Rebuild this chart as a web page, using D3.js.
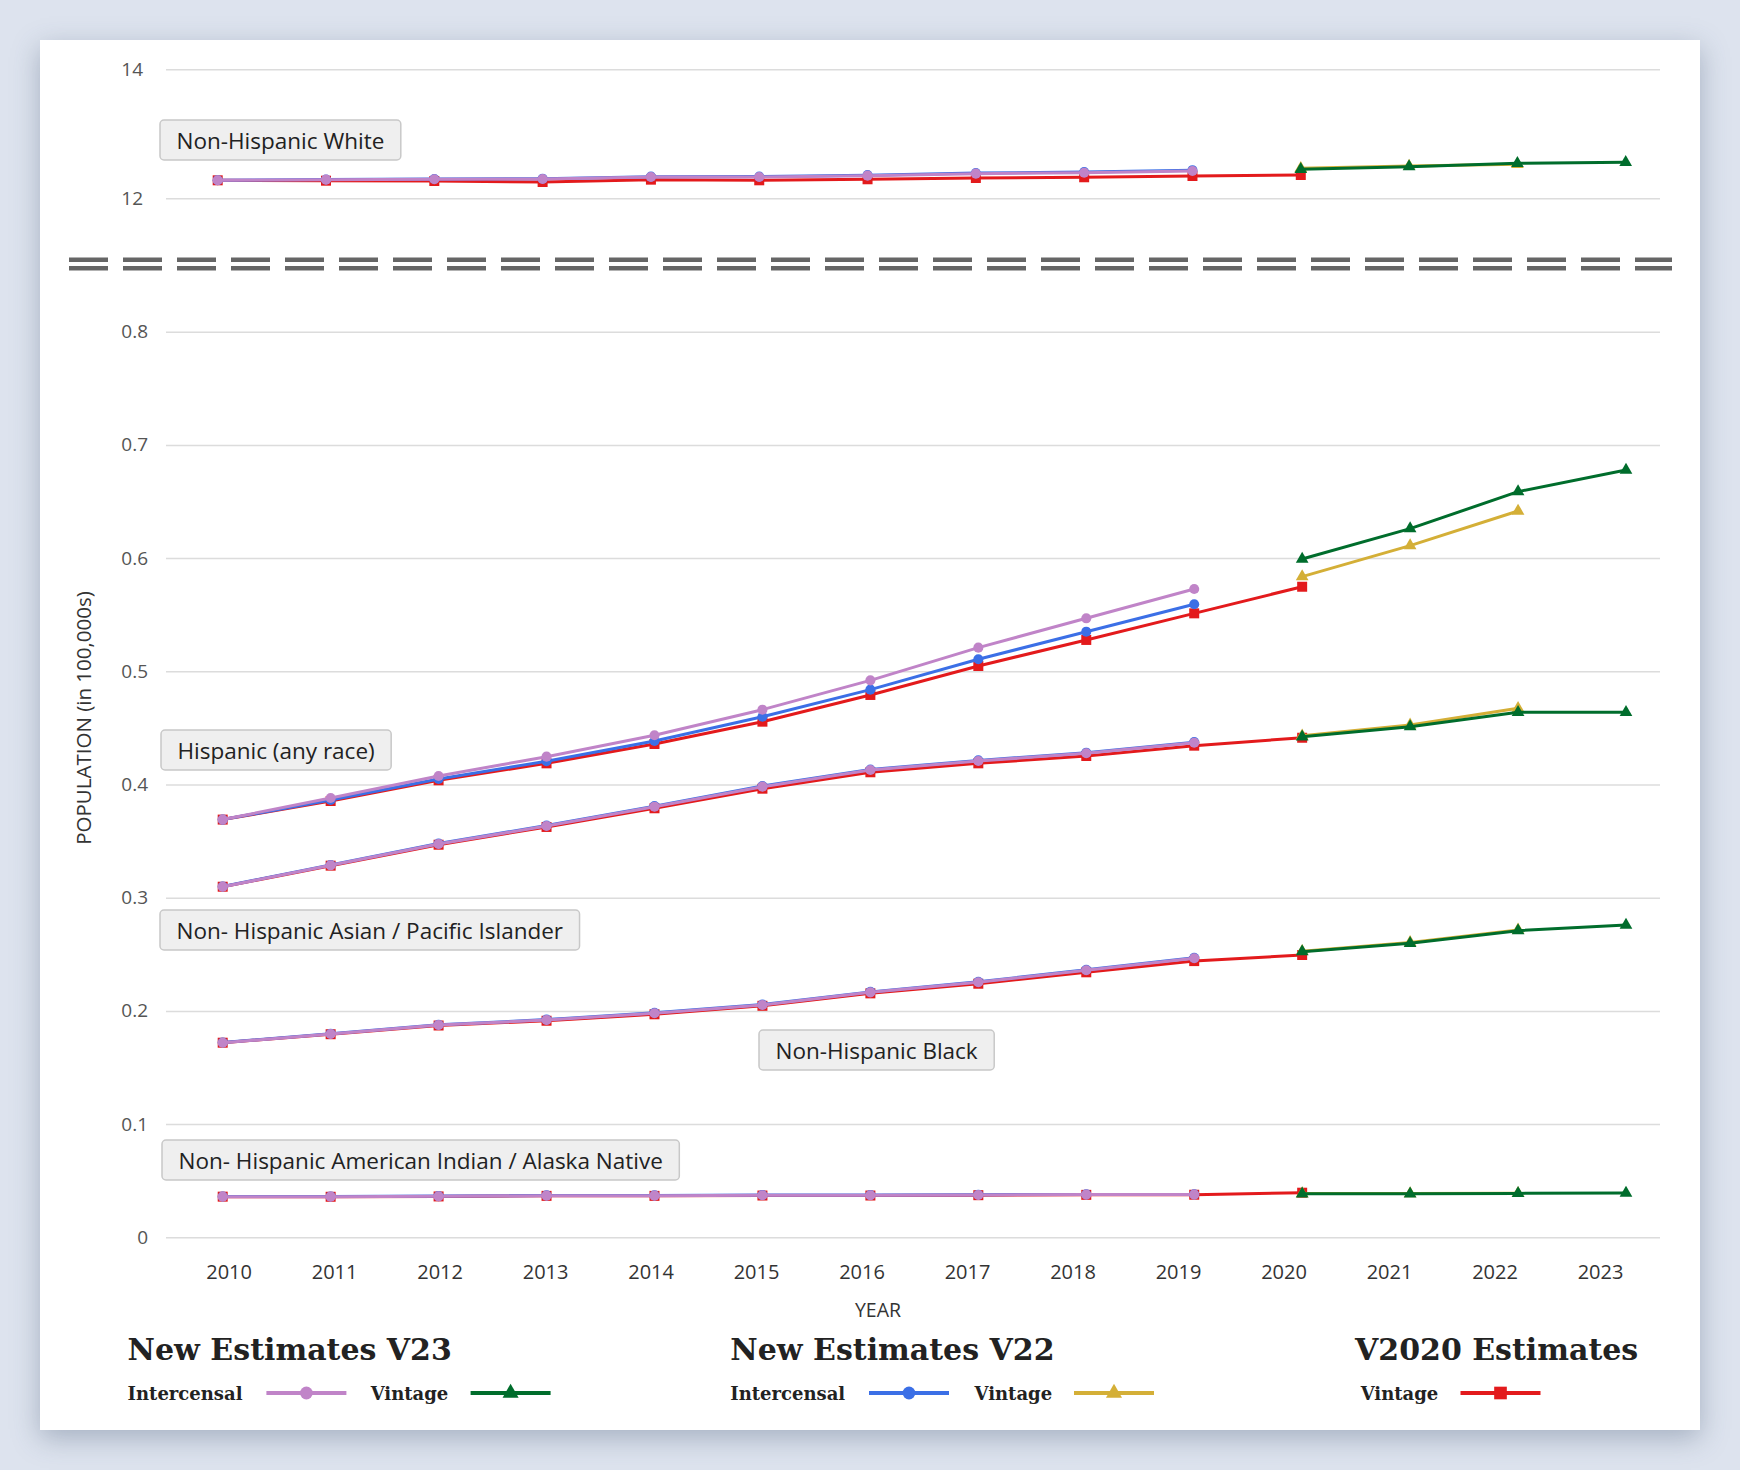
<!DOCTYPE html>
<html>
<head>
<meta charset="utf-8">
<script src="https://cdn.jsdelivr.net/npm/d3@7"></script>
<style>
  body { margin: 0; width: 1740px; height: 1470px; overflow: hidden; background: #dde3ee; font-family: "Open Sans", sans-serif; }
  .card { position: absolute; left: 40px; top: 40px; width: 1660px; height: 1390px; background: #fff;
          box-shadow: 0 8px 26px rgba(60, 80, 110, 0.35); }
  svg { position: absolute; left: 0; top: 0; }
</style>
</head>
<body>
<div class="card"></div>
<div id="chart"></div>
<script>
// years
const yearLabels = ["2010","2011","2012","2013","2014","2015","2016","2017","2018","2019","2020","2021","2022","2023"]
const intercensalYears = [2010, 2011, 2012, 2013, 2014, 2015, 2016, 2017, 2018, 2019]
const v2020Years = [2010, 2011, 2012, 2013, 2014, 2015, 2016, 2017, 2018, 2019, 2020]
const v22VintageYears = [2020, 2021, 2022]
const v23VintageYears = [2020, 2021, 2022, 2023]

// Non-Hispanic White (top panel)
const whiteV23Int = [12.279, 12.289, 12.295, 12.299, 12.330, 12.330, 12.351, 12.382, 12.397, 12.423]
const whiteV22Int = [12.281, 12.292, 12.299, 12.304, 12.336, 12.337, 12.359, 12.391, 12.408, 12.436]
const whiteV2020 = [12.279, 12.273, 12.268, 12.253, 12.289, 12.279, 12.295, 12.315, 12.326, 12.346, 12.361]
const whiteV22Vin = [12.465, 12.500, 12.527]
const whiteV23Vin = [12.450, 12.490, 12.543, 12.558]

// Hispanic (any race)
const hispV23Int = [0.369, 0.3881, 0.4075, 0.4246, 0.4435, 0.4661, 0.4920, 0.5209, 0.5468, 0.5727]
const hispV22Int = [0.369, 0.3863, 0.4049, 0.4205, 0.4384, 0.4599, 0.4838, 0.5106, 0.5350, 0.5592]
const hispV2020 = [0.369, 0.3854, 0.4037, 0.4187, 0.4358, 0.4555, 0.4791, 0.5047, 0.5277, 0.5512, 0.5747]
const hispV22Vin = [0.5836, 0.6110, 0.6416]
const hispV23Vin = [0.5992, 0.6260, 0.6587, 0.6778]

// Non-Hispanic Asian / Pacific Islander
const asianV23Int = [0.3097, 0.3286, 0.3474, 0.3633, 0.3804, 0.3981, 0.4128, 0.4208, 0.4276, 0.4369]
const asianV22Int = [0.3099, 0.3289, 0.3478, 0.3638, 0.3809, 0.3986, 0.4133, 0.4213, 0.4281, 0.4374]
const asianV2020 = [0.3097, 0.3283, 0.3468, 0.3625, 0.3790, 0.3963, 0.4108, 0.4187, 0.4252, 0.4343, 0.4413]
const asianV22Vin = [0.4430, 0.4526, 0.4673]
const asianV23Vin = [0.4422, 0.4511, 0.4638, 0.4638]

// Non-Hispanic Black
const blackV23Int = [0.1719, 0.1796, 0.1875, 0.1920, 0.1979, 0.2052, 0.2164, 0.2253, 0.2359, 0.2465]
const blackV22Int = [0.1721, 0.1798, 0.1877, 0.1923, 0.1983, 0.2056, 0.2168, 0.2257, 0.2363, 0.2469]
const blackV2020 = [0.1719, 0.1794, 0.1871, 0.1913, 0.1970, 0.2045, 0.2155, 0.2240, 0.2341, 0.2440, 0.2494]
const blackV22Vin = [0.2527, 0.2605, 0.2715]
const blackV23Vin = [0.2523, 0.2597, 0.2709, 0.2759]

// Non-Hispanic American Indian / Alaska Native
const aianV23Int = [0.0359, 0.0359, 0.0362, 0.0368, 0.0368, 0.0371, 0.0371, 0.0374, 0.0377, 0.0377]
const aianV22Int = [0.0360, 0.0361, 0.0364, 0.0370, 0.0370, 0.0373, 0.0373, 0.0376, 0.0379, 0.0379]
const aianV2020 = [0.0359, 0.0358, 0.0361, 0.0366, 0.0366, 0.0369, 0.0369, 0.0372, 0.0375, 0.0376, 0.0394]
const aianV22Vin = [0.0386, 0.0386, 0.0389]
const aianV23Vin = [0.0385, 0.0385, 0.0388, 0.0391]

const topTicks = [12, 14]
const bottomTicks = [0, 0.1, 0.2, 0.3, 0.4, 0.5, 0.6, 0.7, 0.8]
const bottomTickLabels = ["0", "0.1", "0.2", "0.3", "0.4", "0.5", "0.6", "0.7", "0.8"]

const labels = [
  { text: "Non-Hispanic White", x: 160, y: 120 },
  { text: "Hispanic (any race)", x: 161, y: 730 },
  { text: "Non- Hispanic Asian / Pacific Islander", x: 160, y: 910 },
  { text: "Non-Hispanic Black", x: 759, y: 1030 },
  { text: "Non- Hispanic American Indian / Alaska Native", x: 162, y: 1140 }
]

// styles of the five series
const estilos = {
  v2020: { color: "#e31a1c", symbol: d3.symbolSquare, size: 100 },
  v22i: { color: "#3b6fe6", symbol: d3.symbolCircle, size: 80 },
  v23i: { color: "#c084c8", symbol: d3.symbolCircle, size: 80 },
  v22v: { color: "#d4af37", symbol: d3.symbolTriangle, size: 70 },
  v23v: { color: "#006d2c", symbol: d3.symbolTriangle, size: 70 }
}

const svg = d3.select("#chart").append("svg")
  .attr("width", 1740)
  .attr("height", 1470)

const gridLeft = 166
const gridRight = 1660

const xTop = d3.scaleLinear().domain([2010, 2023]).range([217.7, 1625.7])
const xBottom = d3.scaleLinear().domain([2010, 2023]).range([222.7, 1626])
const xLabel = d3.scalePoint().domain(yearLabels).range([228.6, 1600])
const yTop = d3.scaleLinear().domain([12, 14]).range([198.3, 69.3])
const yBottom = d3.scaleLinear().domain([0, 0.8]).range([1237.3, 331.7])

// y axes with gridlines
const styleAxis = (g) => {
  g.select(".domain").remove()
  g.selectAll(".tick line").attr("stroke", "#dcdcdc").attr("stroke-width", 1.5)
  g.selectAll(".tick text").attr("fill", "#555").style("font-size", "19px").style("font-family", "Open Sans")
}

svg.append("g")
  .attr("transform", `translate(${gridLeft},0)`)
  .call(d3.axisLeft(yTop).tickValues(topTicks).tickSize(-(gridRight - gridLeft)).tickPadding(23).tickFormat(d3.format("d")))
  .call(styleAxis)

svg.append("g")
  .attr("transform", `translate(${gridLeft},0)`)
  .call(d3.axisLeft(yBottom).tickValues(bottomTicks).tickSize(-(gridRight - gridLeft)).tickPadding(18)
    .tickFormat((d, i) => bottomTickLabels[i]))
  .call(styleAxis)

// x axis labels
svg.append("g")
  .attr("transform", `translate(0,${yBottom(0)})`)
  .call(d3.axisBottom(xLabel).tickSize(0).tickPadding(28))
  .call(g => {
    g.select(".domain").remove()
    g.selectAll(".tick text").attr("fill", "#333").style("font-size", "20px").style("font-family", "Open Sans")
  })

// axis titles
svg.append("text")
  .attr("x", 878)
  .attr("y", 1317)
  .attr("text-anchor", "middle")
  .attr("fill", "#333")
  .style("font-size", "19.5px")
  .text("YEAR")

svg.append("text")
  .attr("transform", "translate(83,718) rotate(-90)")
  .attr("text-anchor", "middle")
  .attr("dominant-baseline", "central")
  .attr("fill", "#333")
  .style("font-size", "20.5px")
  .text("POPULATION (in 100,000s)")

// axis break
svg.selectAll(".corte")
  .data([259.7, 268.2])
  .join("line")
  .attr("class", "corte")
  .attr("x1", 69)
  .attr("x2", 1672)
  .attr("y1", d => d)
  .attr("y2", d => d)
  .attr("stroke", "#666")
  .attr("stroke-width", 4.5)
  .attr("stroke-dasharray", "39,15")

// groups
const grupos = [
  { x: xTop, y: yTop, v2020: whiteV2020, v22i: whiteV22Int, v23i: whiteV23Int, v22v: whiteV22Vin, v23v: whiteV23Vin },
  { x: xBottom, y: yBottom, v2020: hispV2020, v22i: hispV22Int, v23i: hispV23Int, v22v: hispV22Vin, v23v: hispV23Vin },
  { x: xBottom, y: yBottom, v2020: asianV2020, v22i: asianV22Int, v23i: asianV23Int, v22v: asianV22Vin, v23v: asianV23Vin },
  { x: xBottom, y: yBottom, v2020: blackV2020, v22i: blackV22Int, v23i: blackV23Int, v22v: blackV22Vin, v23v: blackV23Vin },
  { x: xBottom, y: yBottom, v2020: aianV2020, v22i: aianV22Int, v23i: aianV23Int, v22v: aianV22Vin, v23v: aianV23Vin }
]

const anios = { v2020: v2020Years, v22i: intercensalYears, v23i: intercensalYears, v22v: v22VintageYears, v23v: v23VintageYears }
const orden = ["v2020", "v22i", "v23i", "v22v", "v23v"]

const capa = svg.append("g").attr("class", "series")

orden.forEach(key => {
  grupos.forEach(gr => {
    const puntos = gr[key].map((v, i) => ({ year: anios[key][i], value: v }))
    const linea = d3.line().x(d => gr.x(d.year)).y(d => gr.y(d.value))
    const est = estilos[key]
    capa.append("path")
      .datum(puntos)
      .attr("d", linea)
      .attr("fill", "none")
      .attr("stroke", est.color)
      .attr("stroke-width", 3)
      .attr("stroke-linejoin", "round")
    capa.append("g")
      .selectAll("path")
      .data(puntos)
      .join("path")
      .attr("d", d3.symbol().type(est.symbol).size(est.size))
      .attr("transform", d => `translate(${gr.x(d.year)},${gr.y(d.value)})`)
      .attr("fill", est.color)
  })
})

// label boxes
const cajas = svg.append("g").attr("class", "cajas")
labels.forEach(l => {
  const g = cajas.append("g").attr("transform", `translate(${l.x},${l.y})`)
  const rect = g.append("rect")
    .attr("height", 40)
    .attr("rx", 4)
    .attr("fill", "#efefef")
    .attr("stroke", "#c8c8c8")
    .attr("stroke-width", 1.5)
  const t = g.append("text")
    .attr("x", 16.5)
    .attr("y", 29)
    .attr("fill", "#222")
    .style("font-size", "22.5px")
    .text(l.text)
  rect.attr("width", t.node().getComputedTextLength() + 33)
})

// legend
const leyendaGrupos = [
  { title: "New Estimates V23", x: 127.6 },
  { title: "New Estimates V22", x: 730.3 },
  { title: "V2020 Estimates", x: 1355 }
]
const leyendaItems = [
  { text: "Intercensal", key: "v23i", x: 127.6, lx: 266.4 },
  { text: "Vintage", key: "v23v", x: 370.7, lx: 470.6 },
  { text: "Intercensal", key: "v22i", x: 730.3, lx: 869 },
  { text: "Vintage", key: "v22v", x: 974.5, lx: 1074 },
  { text: "Vintage", key: "v2020", x: 1360.7, lx: 1460.5 }
]

const leyenda = svg.append("g").attr("class", "leyenda")

leyenda.selectAll(".titulo")
  .data(leyendaGrupos)
  .join("text")
  .attr("class", "titulo")
  .attr("x", d => d.x)
  .attr("y", 1360)
  .attr("fill", "#222")
  .style("font-family", "DejaVu Serif")
  .style("font-weight", "bold")
  .style("font-size", "30px")
  .text(d => d.title)

leyenda.selectAll(".item")
  .data(leyendaItems)
  .join("text")
  .attr("class", "item")
  .attr("x", d => d.x)
  .attr("y", 1400)
  .attr("fill", "#222")
  .style("font-family", "DejaVu Serif")
  .style("font-weight", "bold")
  .style("font-size", "18px")
  .text(d => d.text)

leyenda.selectAll(".muestra")
  .data(leyendaItems)
  .join("line")
  .attr("class", "muestra")
  .attr("x1", d => d.lx)
  .attr("x2", d => d.lx + 80)
  .attr("y1", 1393)
  .attr("y2", 1393)
  .attr("stroke", d => estilos[d.key].color)
  .attr("stroke-width", 4)

leyenda.selectAll(".marca")
  .data(leyendaItems)
  .join("path")
  .attr("class", "marca")
  .attr("d", d => d3.symbol().type(estilos[d.key].symbol).size(estilos[d.key].size * 1.6)())
  .attr("transform", d => `translate(${d.lx + 40},1393)`)
  .attr("fill", d => estilos[d.key].color)
</script>
</body>
</html>
